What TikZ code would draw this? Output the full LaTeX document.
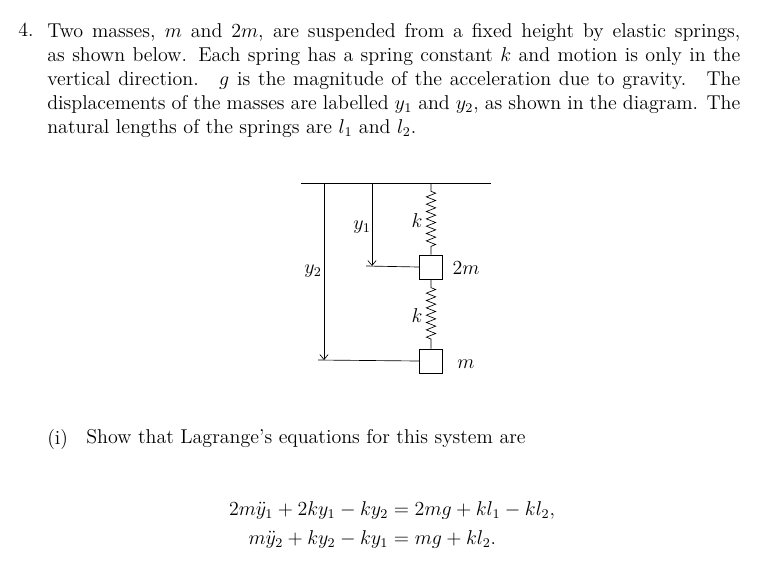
\documentclass[tikz,border=0pt]{standalone}
\usepackage{amsmath}
\usetikzlibrary{arrows.meta,decorations.pathmorphing}
\begin{document}
\begin{tikzpicture}[x=0.6pt, y=-0.6pt,
  >={Straight Barb[length=3pt,width=5pt]},
  txt/.style={inner sep=0pt, font=\fontsize{12}{14.4}\selectfont},
  mass/.style={draw, minimum width=13.8pt, minimum height=14.4pt, inner sep=0pt},
  spring/.style={decorate, decoration={zigzag, segment length=4.4pt, amplitude=2.8pt,
    pre length=5pt, post length=5pt}},
  lbl/.style={inner sep=0pt, font=\fontsize{12}{14.4}\selectfont}
]
\useasboundingbox (0,0) rectangle (763,560);
% question text
\node[txt, anchor=north west] (num) at (18,23) {4.};
\node[txt, anchor=north west, text width=415.8pt, align=justify] (para) at (47,23)
{Two masses, $m$ and $2m$, are suspended from a fixed height by elastic springs,
as shown below. Each spring has a spring constant $k$ and motion is only in the
vertical direction. \ $g$ is the magnitude of the acceleration due to gravity. \ The
displacements of the masses are labelled $y_1$ and $y_2$, as shown in the diagram. The
natural lengths of the springs are $l_1$ and $l_2$.};

% diagram
\coordinate (ceilL) at (301,183);
\coordinate (ceilR) at (491,183);
\draw (ceilL) -- (ceilR);
\coordinate (top) at (431,183);
\coordinate (ya) at (372,183);
\coordinate (yb) at (324,183);
\node[mass] (m1) at (431,267) {};
\node[mass] (m2) at (431,361) {};
\draw[spring] (top) -- (m1.north);
\draw[spring] (m1.south) -- (m2.north);
\coordinate (ya2) at (372,266);
\coordinate (yb2) at (324,360);
\draw[->] (ya) -- (ya2);
\draw[->] (yb) -- (yb2);
\draw (366,266) -- (m1.west);
\draw (318,360) -- (m2.west);
\node[lbl] (y1) at (362,227) {$y_1$};
\node[lbl] (y2) at (313,271) {$y_2$};
\node[lbl] (k1) at (417,221) {$k$};
\node[lbl] (k2) at (417,316) {$k$};
\node[lbl] (lm1) at (466,268) {$2m$};
\node[lbl] (lm2) at (466,364) {$m$};

% part (i)
\node[txt, anchor=north west] (part) at (47,429) {(i)};
\node[txt, anchor=north west] (ptxt) at (86,429) {Show that Lagrange's equations for this system are};
\node[txt] (eqs) at (392,525) {$\begin{aligned}
2m\ddot{y}_1 + 2ky_1 - ky_2 &= 2mg + kl_1 - kl_2,\\
m\ddot{y}_2 + ky_2 - ky_1 &= mg + kl_2.
\end{aligned}$};
\end{tikzpicture}
\end{document}
